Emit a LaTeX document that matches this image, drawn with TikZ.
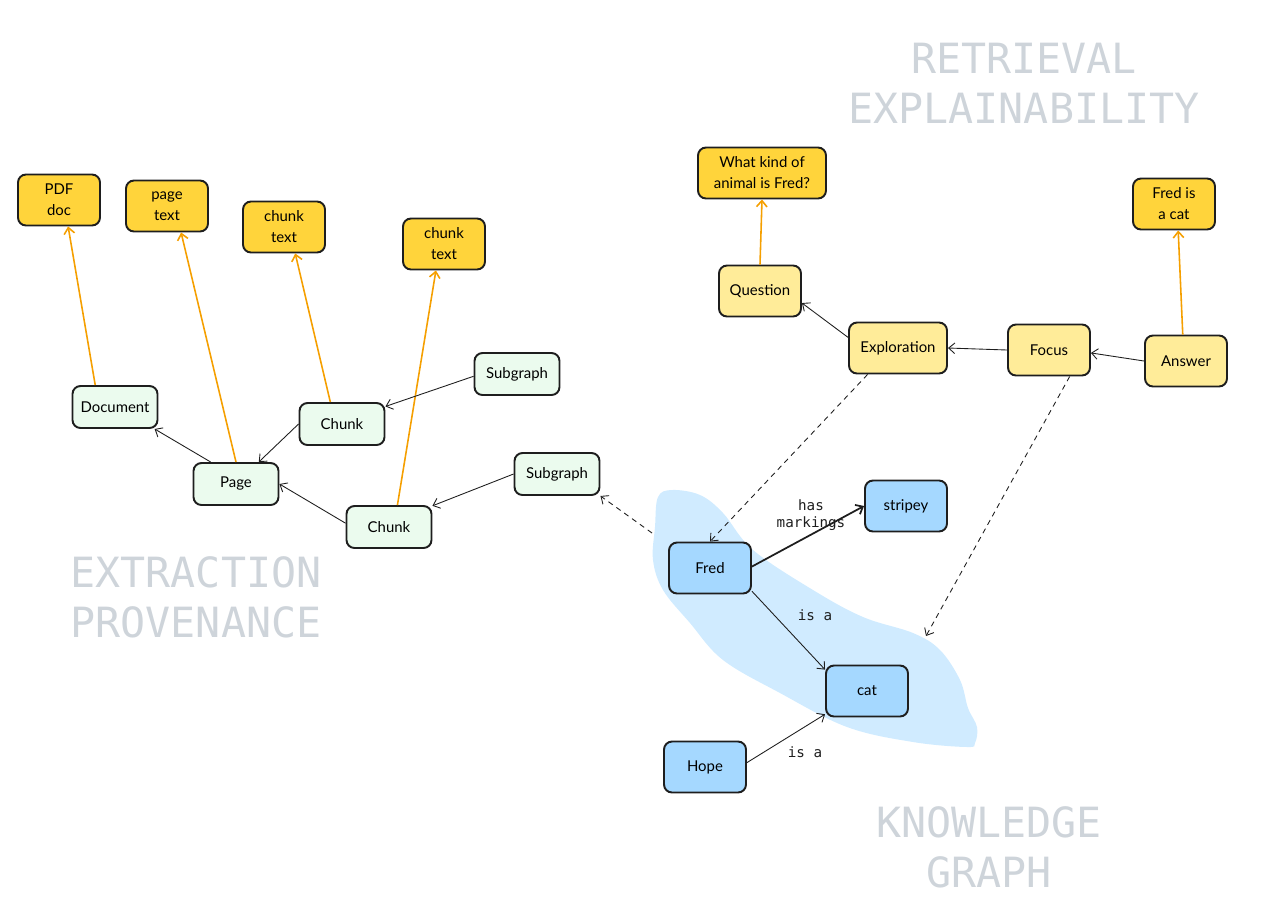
\documentclass[tikz,border=0pt]{standalone}
\usepackage{fontspec}
\setmainfont{Lato}
\setmonofont{DejaVu Sans Mono}
\usetikzlibrary{arrows.meta,positioning}

\definecolor{srcyellow}{HTML}{FFD43B}
\definecolor{explyellow}{HTML}{FFEC99}
\definecolor{provgreen}{HTML}{EBFBEE}
\definecolor{kgblue}{HTML}{A5D8FF}
\definecolor{blobblue}{HTML}{D0EBFF}
\definecolor{linkorange}{HTML}{F59F00}
\definecolor{labelgray}{HTML}{CED4DA}
\definecolor{ink}{HTML}{1E1E1E}

\begin{document}
\begin{tikzpicture}[x=0.02cm,y=-0.02cm,->,>={Straight Barb[length=3.5pt,width=6pt]},thick,
    base node/.style={rounded corners=0.16cm,draw=ink,line width=1.1pt,align=center,font=\fontsize{8.5}{12}\selectfont,minimum width=1.64cm,minimum height=1.02cm,inner sep=2pt},
    src node/.style={base node,fill=srcyellow},
    expl node/.style={base node,fill=explyellow},
    prov node/.style={base node,fill=provgreen,minimum width=1.7cm,minimum height=0.84cm},
    kg node/.style={base node,fill=kgblue},
    big label/.style={font=\fontsize{23.7}{28.5}\selectfont\ttfamily,text=labelgray,align=center},
    edge lbl/.style={font=\fontsize{8.1}{9.7}\selectfont\ttfamily,text=ink,align=center,inner sep=0pt},
    source link/.style={linkorange,line width=0.9pt},
    kg link/.style={ink,line width=0.5pt},
    trace link/.style={ink,line width=0.5pt,dash pattern=on 3pt off 2.5pt}]
    \useasboundingbox (0,0) rectangle (1274,910);

    % knowledge graph area
    \fill[-,blobblue] plot[smooth cycle,tension=0.6] coordinates {(658,497) (672,490) (700,495) (723,513) (753,550) (813,590) (863,617) (913,633) (940,650) (960,680) (968,708) (977,727) (975,743) (967,747) (913,742) (847,727) (780,693) (723,660) (690,623) (663,590) (653,560) (655,527)};

    % extraction provenance
    \node[prov node] (doc) at (115,407) {Document};
    \node[prov node] (page) at (236,484) {Page};
    \node[prov node] (chunkA) at (342,424) {Chunk};
    \node[prov node] (chunkB) at (389,527) {Chunk};
    \node[prov node] (subA) at (517,374) {Subgraph};
    \node[prov node] (subB) at (557,474) {Subgraph};
    \node[src node] (pdf) at (59,200) {PDF\\doc};
    \node[src node] (ptext) at (167,206) {page\\text};
    \node[src node] (ctextA) at (284,227) {chunk\\text};
    \node[src node] (ctextB) at (444,244) {chunk\\text};

    % retrieval explainability
    \node[expl node] (quest) at (760,291) {Question};
    \node[expl node,minimum width=1.96cm] (explo) at (898,348) {Exploration};
    \node[expl node] (focus) at (1049,350) {Focus};
    \node[expl node] (ans) at (1186,361) {Answer};
    \node[src node,minimum width=2.56cm] (qtext) at (762,173) {What kind of\\animal is Fred?};
    \node[src node] (atext) at (1174,204) {Fred is\\a cat};

    % knowledge graph
    \node[kg node] (fred) at (710,568) {Fred};
    \node[kg node] (stripey) at (906,506) {stripey};
    \node[kg node] (cat) at (867,691) {cat};
    \node[kg node] (hope) at (705,767) {Hope};
    \coordinate (kgout) at (652,533);
    \coordinate (kgin) at (926,636);

    \node[big label] (retr) at (1024,83) {RETRIEVAL\\EXPLAINABILITY};
    \node[big label] (extr) at (196,597) {EXTRACTION\\PROVENANCE};
    \node[big label] (know) at (989,847) {KNOWLEDGE\\GRAPH};

    \path[source link]
        (doc.132) edge (pdf.-71)
        (page.north) edge (ptext.-62)
        (chunkA.118) edge (ctextA.-67)
        (chunkB.69) edge (ctextB.-107)
        (quest.north) edge (qtext.south)
        (ans.97) edge (atext.-81)
        ;
    \path[kg link]
        (page.139) edge (doc.-29)
        (chunkA.west) edge (page.44)
        (chunkB.175) edge (page.east)
        (subA.183) edge (chunkA.22)
        (subB.west) edge (chunkB.26)
        (explo.168) edge (quest.-16)
        (focus.west) edge (explo.east)
        (ans.west) edge (focus.-4)
        (fred.-29) edge node[edge lbl,xshift=0.53cm,yshift=0.31cm] {is a} (cat.153)
        (hope.6) edge node[edge lbl,xshift=0.38cm,yshift=-0.27cm] {is a} (cat.209)
        ;
    \path[kg link,line width=1pt]
        (fred.2) edge node[edge lbl,xshift=0.06cm,yshift=0.42cm] {has\\markings} (stripey.west);
    \path[trace link]
        (explo.221) edge (fred.north)
        (focus.-52) edge (kgin)
        (kgout) edge (subB.south east)
        ;
\end{tikzpicture}
\end{document}
